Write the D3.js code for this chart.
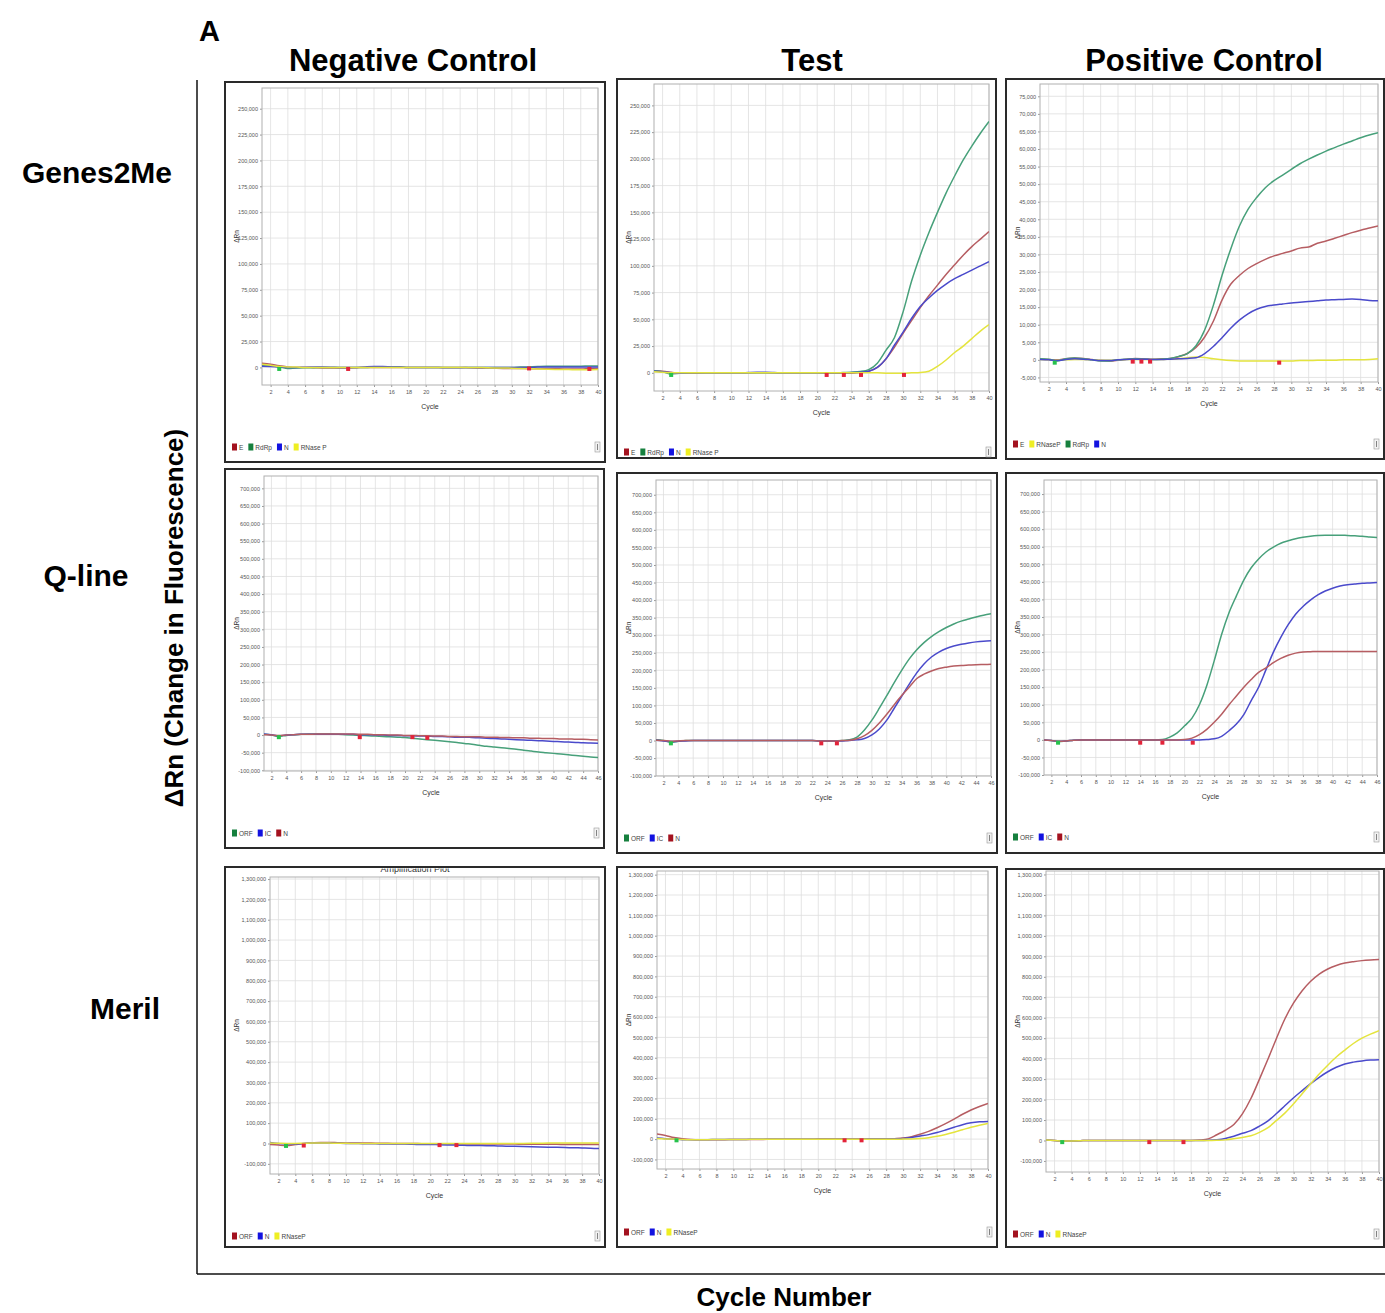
<!DOCTYPE html>
<html><head><meta charset="utf-8">
<script src="https://cdn.jsdelivr.net/npm/d3@7"></script>
<style>body{margin:0;background:#fff}svg{display:block}text{font-family:"Liberation Sans",Arial,sans-serif}</style>
</head><body>
<script>
// ---------- tick labels ----------
const xTicks40 = [2,4,6,8,10,12,14,16,18,20,22,24,26,28,30,32,34,36,38,40];
const xTicks46 = [2,4,6,8,10,12,14,16,18,20,22,24,26,28,30,32,34,36,38,40,42,44,46];
const yTicksG2M = [0,25000,50000,75000,100000,125000,150000,175000,200000,225000,250000];
const yTicksG2MPos = [-5000,0,5000,10000,15000,20000,25000,30000,35000,40000,45000,50000,55000,60000,65000,70000,75000];
const yTicksQline = [-100000,-50000,0,50000,100000,150000,200000,250000,300000,350000,400000,450000,500000,550000,600000,650000,700000];
const yTicksMeril = [-100000,0,100000,200000,300000,400000,500000,600000,700000,800000,900000,1000000,1100000,1200000,1300000];

// ---------- categories ----------
const columnTitles = ["Negative Control","Test","Positive Control"];
const rowTitles = ["Genes2Me","Q-line","Meril"];

// ---------- series values (ΔRn, thousands, cycle 1..N) ----------
// Genes2Me – Negative control
const g2mNegE      = [4,3,1.5,0.5,0, 0,-0.3,-0.5,-0.5,-0.5, -0.5,-0.3,0,0,0, 0,0,0,0,0, 0,0,0,0,-0.3, -0.5,-0.5,-0.8,-1,-1, -1,-1.2,-1.2,-1.3,-1.3, -1.5,-1.5,-1.5,-1.2,-1];
const g2mNegRdRp   = [2,1.5,0.5,-1,-0.5, -0.3,-0.3,0,0,0, 0,0,0,0.3,0.5, 0.5,0.3,0,0,0, 0,0,0,0,0, 0,0,0,0,0, 0.3,0.5,0.8,1,1, 1.2,1.2,1.2,1.3,1.3];
const g2mNegN      = [1,0.8,0.5,0,0, 0.2,0.3,0.3,0.2,0, 0,0,0.5,0.8,0.8, 0.5,0.3,0,0,0, 0,-0.3,-0.3,-0.3,-0.2, 0,0,0,0,0, 0,0,0.3,0.5,0.5, 0.5,0.5,0.3,0.3,0.5];
const g2mNegRNaseP = [3,2,1,0.5,0.3, 0,0,0,0,0, 0,0,0,0,0, 0,0,0,0,0, 0,0,0,0,0, 0,-0.3,-0.5,-0.5,-0.8, -1,-1.2,-1.5,-1.8,-2, -2,-2.2,-2.3,-2.3,-2];
// Genes2Me – Test
const g2mTestE      = [2,1.5,0.5,-0.5,-0.5, -0.3,0,0,0,0, 0,0,0,0,0, 0,0,0,0,0, -0.5,-0.5,-0.5,-0.3,0.5, 1.5,5,13,24,37, 49,61,72,82,92, 101,110,118,125,132];
const g2mTestRdRp   = [2,1,-1,-0.5,0, 0,0,0,0,0, 0,0,0,0,0, 0,0,0,0,0, 0,0,0.3,0.6,1.2, 3,9,21,33,57, 86,110,131,150,168, 184,199,212,224,235];
const g2mTestN      = [1.5,1,0,-0.3,0, 0,0,0,0,0, 0,0.3,0.5,0.5,0.3, 0,0,0,0,0, 0,0,0,0.2,0.5, 1.5,5,13,26,38, 51,62,70,77,83, 88,92,96,100,104];
const g2mTestRNaseP = [1,0.5,0,0,0, 0,0,0,0,0, 0,0,0,0,0, 0,0,0,0,0, 0,0,0,0,0, 0,0,-0.3,-0.3,-0.3, 0,0.3,1.5,6,12, 19,25,32,39,45];
// Genes2Me – Positive control
const g2mPosE      = [0.2,0.1,0,0.3,0.5, 0.4,0.1,-0.2,-0.3,-0.1, 0.2,0.4,0.3,0.2,0.3, 0.4,0.9,1.8,3.5,6.5, 11,17,21.5,24,26, 27.4,28.6,29.6,30.3,31, 31.8,32.1,33.2,33.8,34.6, 35.4,36.2,36.9,37.5,38.1];
const g2mPosRNaseP = [0.1,0,-0.1,0,0.1, 0.1,0,-0.1,-0.1,0, 0.1,0.1,0.1,0.1,0.1, 0.2,0.3,0.6,0.8,0.7, 0.3,0,-0.2,-0.3,-0.3, -0.3,-0.3,-0.3,-0.3,-0.3, -0.2,-0.2,-0.1,-0.1,-0.1, 0,0,0,0.1,0.3];
const g2mPosRdRp   = [0.3,0.2,-0.3,0.3,0.5, 0.3,0,-0.3,-0.3,0, 0.2,0.3,0.2,0.1,0.2, 0.4,1,1.8,4,8.5, 15.5,24,31.5,38,42.8, 46.2,49,51,52.6,54.2, 55.8,57.1,58.3,59.4,60.4, 61.4,62.3,63.2,64,64.6];
const g2mPosN      = [0.1,0,-0.2,0.1,0.3, 0.2,0,-0.2,-0.2,0, 0.1,0.2,0.2,0.1,0.1, 0.2,0.3,0.4,0.6,1.8, 3.8,6.3,9,11.3,13.1, 14.4,15.2,15.6,15.9,16.2, 16.4,16.6,16.8,17,17.1, 17.2,17.3,17.2,16.9,16.8];
// Q-line – Negative control (46 cycles)
const qNegORF = [2,0,-4,-1,1, 2,3,3,3,3, 2,1,0,-1,-2, -3,-4,-5,-6,-7, -9,-11,-13,-15,-17, -19,-21,-24,-26,-29, -32,-34,-36,-38,-40, -43,-45.5,-48,-50,-52, -54,-56,-58,-60,-62, -63.5];
const qNegIC  = [3,1,-2,0,1, 2,2,2,2,2, 2,2,2,1,1, 0,0,-1,-1,-2, -2,-3,-3,-4,-4, -5,-6,-6,-7,-8, -9,-10,-11,-12,-13, -14,-15,-16,-17,-18, -19,-20,-21,-22,-22.5, -23];
const qNegN   = [1,0,-1,0,1, 2,2,3,3,3, 3,3,3,2,2, 1,1,0,0,-1, -1,-2,-2,-3,-3, -4,-4,-5,-5,-5, -6,-6,-7,-7,-8, -8,-9,-9,-10,-10, -11,-11,-12,-12,-13, -14];
// Q-line – Test
const qTestORF = [2,0,-5,-2,0, 0,0,0,0,0, 0,0,0,0,0, 0,0,0,0,0, 0,0,-1,-1,-1, 0,2,10,30,58, 92,128,165,200,232, 258,279,296,310,322, 332,340,346,352,357, 361];
const qTestIC  = [1,-1,-3,-2,-1, 0,0,0,0,0, 0,0,0,0,0, 0,0,0,0,0, 0,0,-1,-1,-1, -1,0,2,6,16, 33,58,92,126,160, 192,218,238,252,262, 269,274,278,281,283, 284];
const qTestN   = [1,0,-2,-1,0, 0,0,0,0,0, 0,0,0,0,0, 0,0,0,0,0, 0,0,-1,-1,-1, 0,1,5,14,29, 50,75,102,128,152, 176,189,198,205,209, 212,214,215,216,216.5, 217];
// Q-line – Positive control
const qPosORF = [0,-2,-5,-3,-1, 0,0,0,0,0, 0,0,0,0,0, 0,1,8,20,40, 62,100,155,225,300, 362,410,455,490,515, 535,549,560,567,573, 577,580,582,583,583, 583,582,581,580,578, 576];
const qPosIC  = [0,-2,-4,-3,-1, 0,0,0,0,0, 0,0,0,0,0, 0,0,0,0,0, 0,0,1,3,10, 26,45,72,112,150, 200,250,292,328,358, 380,398,413,424,432, 438,442,444,446,447, 448];
const qPosN   = [0,-2,-4,-3,-1, 0,0,0,0,0, 0,0,0,0,0, 0,0,0,0,1, 5,15,30,50,73, 100,125,150,172,192, 205,220,232,241,247, 250,251,252,252,252, 252,252,252,252,252, 252];
// Meril – Negative control
const mNegORF    = [-5,-8,-10,-5,0, 3,5,5,4,3, 3,2,2,1,1, 0,0,0,-1,-1, -1,-2,-2,-2,-2, -3,-3,-3,-3,-3, -4,-4,-4,-4,-4, -5,-5,-5,-5,-5];
const mNegN      = [5,0,-3,-2,0, 2,2,2,1,0, 0,-1,-1,-2,-2, -3,-3,-4,-5,-5, -6,-7,-8,-9,-10, -10,-11,-12,-13,-14, -15,-16,-17,-18,-19, -20,-21,-22,-23,-25];
const mNegRNaseP = [2,1,0,0,1, 2,2,2,1,1, 0,0,0,0,0, 0,0,0,0,0, 0,0,0,0,0, 0,0,0,0,0, 0.5,1,1.5,2,2, 2.5,3,3,3,3];
// Meril – Test
const mTestORF    = [25,18,8,2,-2, -3,-3,-3,-3,-2, -2,-2,-2,-1,-1, -1,-1,-1,-1,0, 0,0,0,0,0, 0,0,0,2,5, 12,24,38,56,76, 98,122,143,160,175];
const mTestN      = [5,2,0,-3,-3, -3,-3,-2,-2,-2, -2,-1,-1,-1,-1, -1,-1,-1,-1,-1, -1,-1,-1,-1,-1, 0,0,0,1,3, 8,15,22,32,45, 58,71,80,85,87];
const mTestRNaseP = [3,1,0,-2,-3, -3,-3,-2,-2,-2, -2,-1,-1,-1,-1, -1,-1,-1,-1,-1, -1,-1,-1,-1,-1, -1,-1,-1,-1,0, 1,3,7,14,23, 34,46,58,68,77];
// Meril – Positive control
const mPosORF    = [3,0,-3,-2,-1, 0,0,0,0,0, 0,0,0,0,0, 0,0,0,2,8, 28,50,78,130,205, 300,398,500,596,672, 732,778,813,838,855, 867,874,879,882,884];
const mPosN      = [3,0,-3,-2,-1, 0,0,0,0,0, 0,0,0,0,0, 0,0,0,0,1, 4,10,21,35,48, 70,96,132,171,209, 244,278,309,336,358, 374,383,389,393,395];
const mPosRNaseP = [3,0,-3,-2,-1, 0,0,0,0,0, 0,0,0,0,0, 0,0,0,0,0, 1,3,8,15,23, 40,63,98,135,180, 228,277,325,368,408, 442,474,500,520,537];

// ---------- threshold-cycle markers [colour, cycle, value (thousands)] ----------
const g2mNegThr  = [["g",3,-1.5],["r",11,-1.5],["r",32,-1],["r",39,-1.5]];
const g2mTestThr = [["g",3,-2],["r",21.1,-2],["r",23.1,-2],["r",25.1,-2],["r",30.1,-2]];
const g2mPosThr  = [["g",2.7,-0.8],["r",11.7,-0.5],["r",12.7,-0.5],["r",13.7,-0.5],["r",28.6,-0.8]];
const qNegThr    = [["g",3,-6],["r",13.9,-6],["r",21,-6],["r",23,-8]];
const qTestThr   = [["g",3,-8],["r",23.2,-8],["r",25.3,-8]];
const qPosThr    = [["g",2.9,-8],["r",14,-8],["r",17,-8],["r",21.1,-8]];
const mNegThr    = [["g",2.9,-12],["r",5,-10],["r",21.1,-8],["r",23.1,-8]];
const mTestThr   = [["g",3.3,-6],["r",23.1,-6],["r",25.1,-6]];
const mPosThr    = [["g",2.9,-8],["r",13.1,-8],["r",17.1,-8]];

// ---------- styles ----------
const C = {red:"#b65d62", green:"#47a07a", blue:"#4a4acb", yellow:"#e4e43e"};
const L = {red:"#a3121f", green:"#16803e", blue:"#1212e0", yellow:"#eeee22"};
const MK = {r:"#e3243a", g:"#26c24c"};
const S = (name, values, col) => ({name, values, color:C[col], lc:L[col]});

const panels = [
  {frame:[225,82,605,462], plot:[262,88,598,385], xMax:40, xTicks:xTicks40, yDomain:[-17000,270000], yTicks:yTicksG2M, legendY:447, thr:g2mNegThr,
   series:[S("E",g2mNegE,"red"),S("RdRp",g2mNegRdRp,"green"),S("N",g2mNegN,"blue"),S("RNase P",g2mNegRNaseP,"yellow")]},
  {frame:[617,79,996,458], plot:[654,84,989,391], xMax:40, xTicks:xTicks40, yDomain:[-17000,270000], yTicks:yTicksG2M, legendY:452, thr:g2mTestThr,
   series:[S("E",g2mTestE,"red"),S("RdRp",g2mTestRdRp,"green"),S("N",g2mTestN,"blue"),S("RNase P",g2mTestRNaseP,"yellow")]},
  {frame:[1006,79,1384,459], plot:[1040,84,1378,382], xMax:40, xTicks:xTicks40, yDomain:[-6300,78500], yTicks:yTicksG2MPos, legendY:444, thr:g2mPosThr,
   series:[S("E",g2mPosE,"red"),S("RNaseP",g2mPosRNaseP,"yellow"),S("RdRp",g2mPosRdRp,"green"),S("N",g2mPosN,"blue")]},
  {frame:[225,469,604,848], plot:[264,476,598,771], xMax:46, xTicks:xTicks46, yDomain:[-102000,735000], yTicks:yTicksQline, legendY:833, thr:qNegThr,
   series:[S("ORF",qNegORF,"green"),S("IC",qNegIC,"blue"),S("N",qNegN,"red")]},
  {frame:[617,473,997,853], plot:[656,480,991,776], xMax:46, xTicks:xTicks46, yDomain:[-101000,742000], yTicks:yTicksQline, legendY:838, thr:qTestThr,
   series:[S("ORF",qTestORF,"green"),S("IC",qTestIC,"blue"),S("N",qTestN,"red")]},
  {frame:[1006,473,1384,853], plot:[1044,480,1377,775], xMax:46, xTicks:xTicks46, yDomain:[-100000,740000], yTicks:yTicksQline, legendY:837, thr:qPosThr,
   series:[S("ORF",qPosORF,"green"),S("IC",qPosIC,"blue"),S("N",qPosN,"red")]},
  {frame:[225,867,605,1247], plot:[270,877,599,1174], xMax:40, xTicks:xTicks40, yDomain:[-150000,1310000], yTicks:yTicksMeril, legendY:1236, thr:mNegThr,
   series:[S("ORF",mNegORF,"red"),S("N",mNegN,"blue"),S("RNaseP",mNegRNaseP,"yellow")]},
  {frame:[617,867,997,1247], plot:[657,871,988,1169], xMax:40, xTicks:xTicks40, yDomain:[-147000,1318000], yTicks:yTicksMeril, legendY:1232, thr:mTestThr,
   series:[S("ORF",mTestORF,"red"),S("N",mTestN,"blue"),S("RNaseP",mTestRNaseP,"yellow")]},
  {frame:[1006,869,1384,1247], plot:[1046,871,1379,1172], xMax:40, xTicks:xTicks40, yDomain:[-154000,1317000], yTicks:yTicksMeril, legendY:1234, thr:mPosThr,
   series:[S("ORF",mPosORF,"red"),S("N",mPosN,"blue"),S("RNaseP",mPosRNaseP,"yellow")]}
];

const fmt = v => (v < 0 ? "-" : "") + d3.format(",")(Math.abs(v));
const FONT = "'Liberation Sans', Arial, sans-serif";

const svg = d3.select("body").append("svg").attr("width",1385).attr("height",1313);

// outer axis lines
svg.append("line").attr("x1",197).attr("x2",197).attr("y1",80).attr("y2",1274).attr("stroke","#111").attr("stroke-width",1.5);
svg.append("line").attr("x1",197).attr("x2",1385).attr("y1",1274).attr("y2",1274).attr("stroke","#111").attr("stroke-width",1.5);

panels.forEach((p, i) => {
  const [fx0,fy0,fx1,fy1] = p.frame, [px0,py0,px1,py1] = p.plot;
  const g = svg.append("g");
  g.append("rect").attr("x",fx0).attr("y",fy0).attr("width",fx1-fx0).attr("height",fy1-fy0)
    .attr("fill","#fff").attr("stroke","#2a2a2a").attr("stroke-width",2);

  const x = d3.scaleLinear().domain([1,p.xMax]).range([px0,px1]);
  const y = d3.scaleLinear().domain(p.yDomain).range([py1,py0]);

  // grid
  const grid = g.append("g").attr("stroke","#dedede").attr("stroke-width",0.8);
  grid.selectAll("line.v").data(p.xTicks).join("line").attr("class","v")
    .attr("x1",d=>x(d)).attr("x2",d=>x(d)).attr("y1",py0).attr("y2",py1);
  grid.selectAll("line.h").data(p.yTicks).join("line").attr("class","h")
    .attr("y1",d=>y(d)).attr("y2",d=>y(d)).attr("x1",px0).attr("x2",px1);

  // axes
  const ya = g.append("g").attr("transform",`translate(${px0},0)`)
    .call(d3.axisLeft(y).tickValues(p.yTicks).tickFormat(fmt).tickSize(2).tickPadding(2));
  const xa = g.append("g").attr("transform",`translate(0,${py1})`)
    .call(d3.axisBottom(x).tickValues(p.xTicks).tickFormat(d3.format("d")).tickSize(2).tickPadding(3));
  [ya,xa].forEach(a => {
    a.attr("font-size",5.5).attr("font-family",FONT);
    a.select(".domain").remove();
    a.selectAll("line").attr("stroke","#999");
    a.selectAll("text").attr("fill","#555");
  });

  // plot border
  g.append("rect").attr("x",px0).attr("y",py0).attr("width",px1-px0).attr("height",py1-py0)
    .attr("fill","none").attr("stroke","#b0b0b0").attr("stroke-width",1);

  // clip
  const cid = "clip"+i;
  svg.append("clipPath").attr("id",cid).append("rect").attr("x",px0).attr("y",py0).attr("width",px1-px0).attr("height",py1-py0);

  const line = d3.line().x((d,k)=>x(k+1)).y(d=>y(d*1000)).curve(d3.curveMonotoneX);
  const lg = g.append("g").attr("clip-path",`url(#${cid})`);
  lg.selectAll("path").data(p.series).join("path")
    .attr("d",s=>line(s.values)).attr("fill","none").attr("stroke",s=>s.color).attr("stroke-width",1.5);

  // threshold markers
  lg.selectAll("rect.mk").data(p.thr).join("rect").attr("class","mk")
    .attr("x",d=>x(d[1])-2).attr("y",d=>y(d[2]*1000)-2).attr("width",4).attr("height",4)
    .attr("fill",d=>MK[d[0]]);

  // axis titles
  g.append("text").attr("x",(px0+px1)/2).attr("y",py1+24).attr("text-anchor","middle")
    .attr("font-size",7).attr("fill","#333").text("Cycle");
  g.append("text").attr("transform",`translate(${fx0+14},${(py0+py1)/2}) rotate(-90)`).attr("text-anchor","middle")
    .attr("font-size",6.5).attr("fill","#333").text("ΔRn");

  // legend
  let lx = fx0 + 7;
  p.series.forEach(s => {
    g.append("rect").attr("x",lx).attr("y",p.legendY-3.5).attr("width",5).attr("height",7).attr("fill",s.lc);
    lx += 7;
    const t = g.append("text").attr("x",lx).attr("y",p.legendY+2.5).attr("font-size",6.5).attr("fill","#444").text(s.name);
    lx += t.node().getComputedTextLength() + 5;
  });
  // scroll icon
  g.append("rect").attr("x",fx1-10).attr("y",p.legendY-5).attr("width",5).attr("height",10)
    .attr("fill","#f2f2f2").attr("stroke","#999").attr("stroke-width",0.6);
  g.append("line").attr("x1",fx1-7.5).attr("x2",fx1-7.5).attr("y1",p.legendY-3).attr("y2",p.legendY+3).attr("stroke","#666").attr("stroke-width",0.8);
});

// clipped title remnant above Meril negative panel
svg.append("clipPath").attr("id","ttlclip").append("rect").attr("x",300).attr("y",868.5).attr("width",250).attr("height",6);
svg.append("text").attr("clip-path","url(#ttlclip)").attr("x",415).attr("y",872).attr("text-anchor","middle")
  .attr("font-size",9).attr("fill","#333").text("Amplification Plot");

// figure texts
svg.append("text").attr("x",199).attr("y",41).attr("font-size",29).attr("font-weight","bold").text("A");
const colX = [413,812,1204];
columnTitles.forEach((t,k)=> svg.append("text").attr("x",colX[k]).attr("y",71).attr("text-anchor","middle")
  .attr("font-size",31).attr("font-weight","bold").text(t));
const rowPos = [[97,183],[86,586],[125,1019]];
rowTitles.forEach((t,k)=> svg.append("text").attr("x",rowPos[k][0]).attr("y",rowPos[k][1]).attr("text-anchor","middle")
  .attr("font-size",30).attr("font-weight","bold").text(t));
svg.append("text").attr("transform","translate(183,618) rotate(-90)").attr("text-anchor","middle")
  .attr("font-size",26).attr("font-weight","bold").text("ΔRn (Change in Fluorescence)");
svg.append("text").attr("x",784).attr("y",1306).attr("text-anchor","middle")
  .attr("font-size",26).attr("font-weight","bold").text("Cycle Number");
</script>
</body></html>
